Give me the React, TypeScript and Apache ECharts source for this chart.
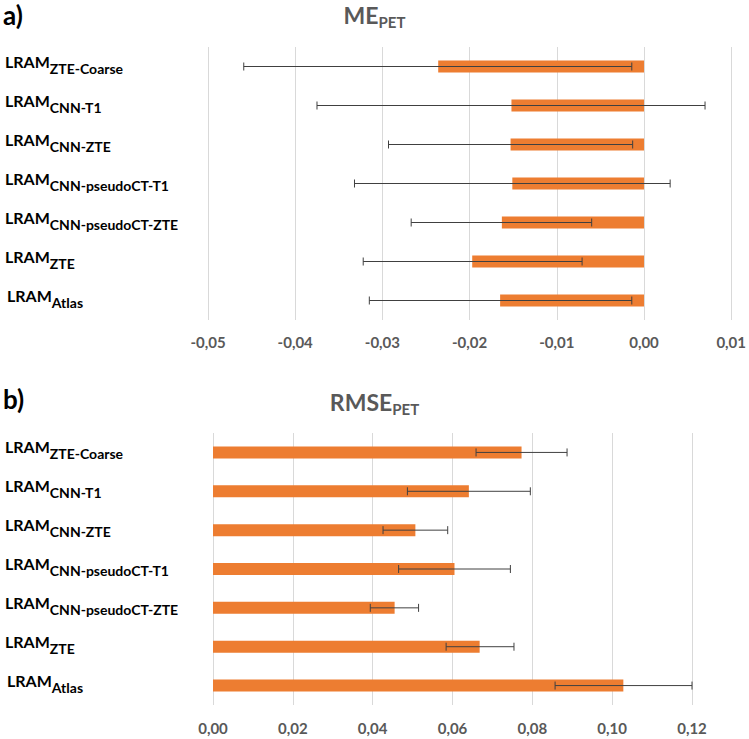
import React, { useEffect, useRef } from 'react';
import * as echarts from 'echarts';

const categories = ['ZTE-Coarse', 'CNN-T1', 'CNN-ZTE', 'CNN-pseudoCT-T1', 'CNN-pseudoCT-ZTE', 'ZTE', 'Atlas'];

const meValues = [-0.0236, -0.0152, -0.0153, -0.0151, -0.0163, -0.0197, -0.0165];
const meErrLow = [-0.0459, -0.0375, -0.0293, -0.0332, -0.0267, -0.0322, -0.0315];
const meErrHigh = [-0.0014, 0.0070, -0.0013, 0.0030, -0.0060, -0.0071, -0.0014];

const rmseValues = [0.0773, 0.0641, 0.0507, 0.0605, 0.0455, 0.0668, 0.1028];
const rmseErrLow = [0.0659, 0.0487, 0.0426, 0.0465, 0.0394, 0.0584, 0.0857];
const rmseErrHigh = [0.0887, 0.0795, 0.0588, 0.0745, 0.0515, 0.0754, 0.1200];

const meAxis = { min: -0.05, max: 0.01, interval: 0.01 };
const rmseAxis = { min: 0, max: 0.12, interval: 0.02 };

const FONT = 'Lato';
const GRAY = '#595959';
const ORANGE = '#ED7D31';
const ERR = '#404040';

const labelRich = {
  m: { fontFamily: FONT, fontSize: 16, fontWeight: 'bold', color: '#000', height: 18, verticalAlign: 'top' },
  ma: { fontFamily: FONT, fontSize: 16, fontWeight: 'bold', color: '#000', height: 18, verticalAlign: 'top', padding: [0, 0, 0, 2] },
  s: { fontFamily: FONT, fontSize: 14, fontWeight: 'bold', color: '#000', height: 16, padding: [8, 0, 0, 0], verticalAlign: 'top' },
};

const titleRich = {
  m: { fontFamily: FONT, fontSize: 23, fontWeight: 'bold', color: GRAY, height: 26, verticalAlign: 'top' },
  s: { fontFamily: FONT, fontSize: 15, fontWeight: 'bold', color: GRAY, height: 18, padding: [11, 0, 0, 0], verticalAlign: 'top' },
};

const fmt = (v: number) => v.toFixed(2).replace('.', ',');

const errRender = (params: any, api: any) => {
  const idx = api.value(2);
  const lo = api.coord([api.value(0), idx]);
  const hi = api.coord([api.value(1), idx]);
  const h = 4;
  const st = { stroke: ERR, lineWidth: 1 };
  return {
    type: 'group',
    children: [
      { type: 'line', shape: { x1: lo[0], y1: lo[1], x2: hi[0], y2: hi[1] }, style: st },
      { type: 'line', shape: { x1: lo[0], y1: lo[1] - h, x2: lo[0], y2: lo[1] + h }, style: st },
      { type: 'line', shape: { x1: hi[0], y1: hi[1] - h, x2: hi[0], y2: hi[1] + h }, style: st },
    ],
  };
};

export default function App() {
  const ref = useRef<HTMLDivElement>(null);
  useEffect(() => {
    if (!ref.current) return;
    const chart = echarts.init(ref.current, undefined, { renderer: 'svg' });
    const xAxisCommon = (ax: any, gridIndex: number, margin: number) => ({
      type: 'value',
      gridIndex,
      min: ax.min,
      max: ax.max,
      interval: ax.interval,
      axisLine: { show: false },
      axisTick: { show: false },
      splitLine: { show: true, lineStyle: { color: '#d9d9d9', width: 1 } },
      axisLabel: {
        formatter: fmt,
        color: GRAY,
        fontFamily: FONT,
        fontSize: 15,
        fontWeight: 'bold',
        margin,
      },
    });
    const yAxisCommon = (gridIndex: number, margin: number) => ({
      type: 'category',
      gridIndex,
      data: categories,
      inverse: true,
      axisLine: { show: false },
      axisTick: { show: false },
      splitLine: { show: false },
      axisLabel: {
        align: 'left',
        margin,
        padding: [0, 0, 5, 0],
        formatter: (v: string) => (v === 'Atlas' ? `{ma|LRAM}{s|${v}}` : `{m|LRAM}{s|${v}}`),
        rich: labelRich,
      },
    });
    chart.setOption({
      animation: false,
      backgroundColor: '#fff',
      title: [
        { text: 'a)', left: 3, top: 2, padding: 0, textStyle: { fontFamily: FONT, fontSize: 26, fontWeight: 'bold', color: '#000' } },
        { text: '{m|ME}{s|PET}', left: 'center', top: 2, padding: 0, textStyle: { rich: titleRich } },
        { text: 'b)', left: 3, top: 386, padding: 0, textStyle: { fontFamily: FONT, fontSize: 26, fontWeight: 'bold', color: '#000' } },
        { text: '{m|RMSE}{s|PET}', left: 'center', top: 389, padding: 0, textStyle: { rich: titleRich } },
      ],
      grid: [
        { left: 208, top: 47, width: 524, height: 273 },
        { left: 213, top: 433, width: 479, height: 272 },
      ],
      xAxis: [xAxisCommon(meAxis, 0, 14), xAxisCommon(rmseAxis, 1, 15)],
      yAxis: [yAxisCommon(0, 203), yAxisCommon(1, 208)],
      series: [
        {
          type: 'bar',
          xAxisIndex: 0,
          yAxisIndex: 0,
          data: meValues,
          barWidth: 12,
          itemStyle: { color: ORANGE },
        },
        {
          type: 'custom',
          xAxisIndex: 0,
          yAxisIndex: 0,
          z: 5,
          renderItem: errRender,
          encode: { x: [0, 1], y: 2 },
          data: meErrLow.map((lo, i) => [lo, meErrHigh[i], i]),
        },
        {
          type: 'bar',
          xAxisIndex: 1,
          yAxisIndex: 1,
          data: rmseValues,
          barWidth: 12,
          itemStyle: { color: ORANGE },
        },
        {
          type: 'custom',
          xAxisIndex: 1,
          yAxisIndex: 1,
          z: 5,
          renderItem: errRender,
          encode: { x: [0, 1], y: 2 },
          data: rmseErrLow.map((lo, i) => [lo, rmseErrHigh[i], i]),
        },
      ],
    });
    return () => chart.dispose();
  }, []);
  return (
    <div
      ref={ref}
      style={{ position: 'absolute', left: 0, top: 0, width: 749, height: 739 }}
    />
  );
}
